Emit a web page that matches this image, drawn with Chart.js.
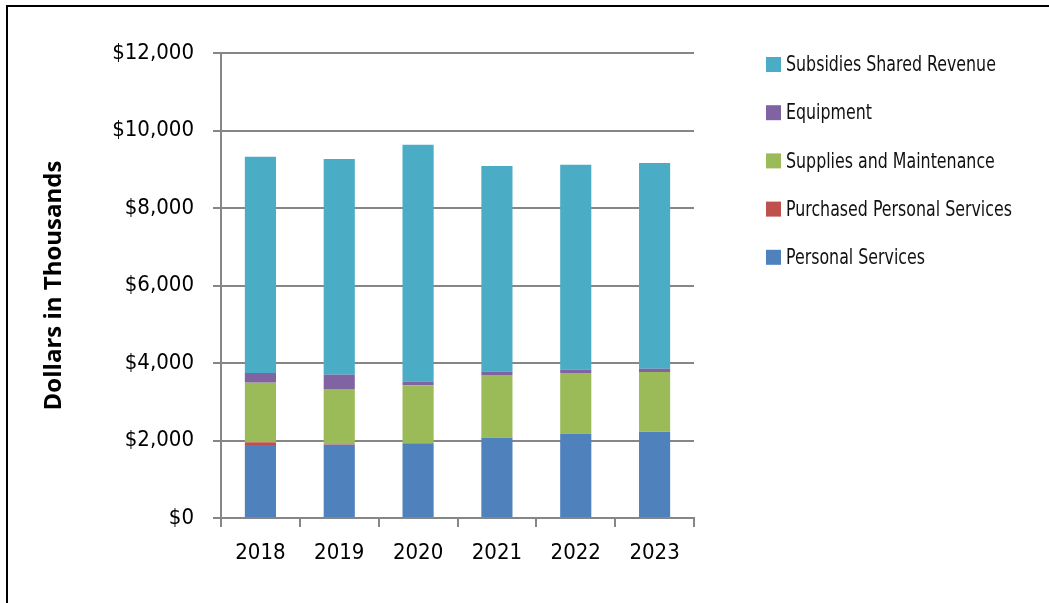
<!DOCTYPE html>
<html>
<head>
<meta charset="utf-8">
<script src="https://cdn.jsdelivr.net/npm/chart.js@4"></script>
<style>
  html, body { margin: 0; padding: 0; background: #fff; }
  #wrap { position: relative; width: 1049px; height: 603px; overflow: hidden; }
  #frame {
    position: absolute; left: 6px; top: 5px; width: 1200px; height: 700px;
    border-top: 2px solid #000; border-left: 2px solid #000; pointer-events: none;
  }
</style>
</head>
<body>
<div id="wrap">
  <canvas id="chart" width="1049" height="603"></canvas>
  <div id="frame"></div>
</div>
<script>
// ========================
// Daten
// ========================
const years = ['2018', '2019', '2020', '2021', '2022', '2023'];
const personalServices = [1884, 1892, 1917, 2072, 2175, 2219];
const purchasedPersonal = [70, 15, 15, 10, 10, 5];
const suppliesMaint = [1538, 1422, 1493, 1608, 1557, 1544];
const equipment = [250, 369, 92, 86, 85, 85];
const subsidies = [5582, 5567, 6117, 5308, 5291, 5308];
const yTicks = [0, 2000, 4000, 6000, 8000, 10000, 12000];

const FONT = "'DejaVu Sans Condensed', 'DejaVu Sans', sans-serif";
const GRID = '#868686';

// Legende rechts, oberster Eintrag = oberstes Segment
const sideLegend = {
  id: 'sideLegend',
  afterDraw(chart) {
    const ctx = chart.ctx;
    const sets = chart.data.datasets.slice().reverse();
    ctx.save();
    ctx.font = '22px ' + FONT;
    ctx.textBaseline = 'middle';
    ctx.textAlign = 'left';
    sets.forEach((ds, i) => {
      const y = 64.5 + i * 48.2;
      ctx.fillStyle = ds.backgroundColor;
      ctx.fillRect(766, y - 7.5, 15, 15);
      ctx.fillStyle = '#111';
      // schmal gezogen wie die Vorlage
      ctx.save();
      ctx.translate(786, y + 1);
      ctx.scale(0.8, 1);
      ctx.fillText(ds.label, 0, 0);
      ctx.restore();
    });
    ctx.restore();
  }
};

const datasets = [
  { label: 'Personal Services', data: personalServices, backgroundColor: '#4F81BD' },
  { label: 'Purchased Personal Services', data: purchasedPersonal, backgroundColor: '#C0504D' },
  { label: 'Supplies and Maintenance', data: suppliesMaint, backgroundColor: '#9BBB59' },
  { label: 'Equipment', data: equipment, backgroundColor: '#8064A2' },
  { label: 'Subsidies Shared Revenue', data: subsidies, backgroundColor: '#4BACC6' }
].map(d => Object.assign(d, { barPercentage: 0.395, categoryPercentage: 1, borderWidth: 0 }));

new Chart(document.getElementById('chart'), {
  type: 'bar',
  data: { labels: years, datasets },
  plugins: [sideLegend],
  options: {
    responsive: false,
    animation: false,
    layout: { padding: { top: 53, right: 355, bottom: 0, left: 0 } },
    plugins: { legend: { display: false }, tooltip: { enabled: false } },
    scales: {
      x: {
        stacked: true,
        afterFit: s => { s.height = 85; },
        grid: { drawOnChartArea: false, drawTicks: true, tickLength: 9, color: GRID, lineWidth: 2 },
        border: { color: GRID, width: 2 },
        ticks: { color: '#000', padding: 13, font: { family: FONT, size: 22 } }
      },
      y: {
        stacked: true,
        min: 0,
        max: 12000,
        afterFit: s => { s.width = 221; },
        afterBuildTicks: s => { s.ticks = yTicks.map(v => ({ value: v })); },
        grid: { color: GRID, lineWidth: 2, tickLength: 8 },
        border: { color: GRID, width: 2 },
        ticks: {
          color: '#000', padding: 19, font: { family: FONT, size: 22 },
          callback: v => '$' + v.toLocaleString('en-US')
        },
        title: {
          display: true, text: 'Dollars in Thousands', color: '#000',
          font: { family: "'Open Sans', sans-serif", size: 24, weight: 'bold' },
          padding: { top: 40, bottom: 0 }
        }
      }
    }
  }
});
</script>
</body>
</html>
